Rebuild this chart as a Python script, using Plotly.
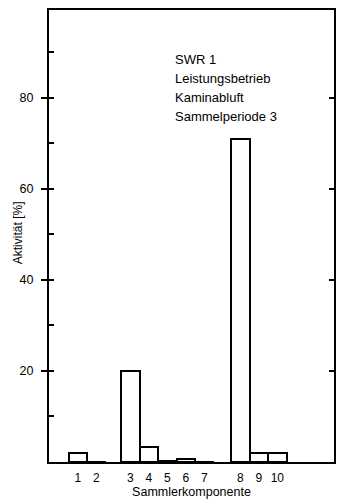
import plotly.graph_objects as go

# Data
components = ["1", "2", "3", "4", "5", "6", "7", "8", "9", "10"]
slot_positions = [1, 2, 3.85, 4.85, 5.85, 6.85, 7.85, 9.8, 10.8, 11.8]
activity = [2.0, 0.0, 20.0, 3.3, 0.3, 0.6, 0.0, 71.0, 1.9, 1.9]
y_major = [20, 40, 60, 80]
y_labels = ["20", "40", "60", "80"]
info_lines = ["SWR 1", "Leistungsbetrieb", "Kaminabluft", "Sammelperiode 3"]

FONT = "Liberation Sans"
YMAX = 99.3
XR = [-0.56, 14.87]

fig = go.Figure()
fig.add_trace(go.Bar(
    x=slot_positions, y=activity, width=1.0,
    marker=dict(color="white", line=dict(color="black", width=2)),
    showlegend=False, hoverinfo="skip",
))
fig.add_trace(go.Scatter(x=[None], y=[None], yaxis="y2", showlegend=False))
fig.add_trace(go.Scatter(x=[None], y=[None], yaxis="y3", showlegend=False))

fig.update_layout(
    width=338, height=504,
    margin=dict(l=49, r=2, t=10, b=42),
    paper_bgcolor="white", plot_bgcolor="white",
    font=dict(family=FONT, size=12, color="black"),
    bargap=0,
    xaxis=dict(
        range=XR, tickmode="array", tickvals=slot_positions, ticktext=components,
        ticks="", showgrid=False, zeroline=False,
        showline=True, linecolor="black", linewidth=2, mirror=True,
        tickfont=dict(size=12), ticklabelstandoff=4,
        title=dict(text="Sammlerkomponente", font=dict(size=12.5), standoff=2),
    ),
    yaxis=dict(
        range=[0, YMAX], tickmode="array", tickvals=y_major, ticktext=y_labels,
        ticks="outside", ticklen=6, tickwidth=2, tickcolor="black",
        minor=dict(tickmode="array", tickvals=[10, 30, 50, 70, 90],
                   ticks="inside", ticklen=5, tickwidth=2, tickcolor="black"),
        showgrid=False, zeroline=False,
        showline=True, linecolor="black", linewidth=2, mirror=True,
        tickfont=dict(size=12.5), ticklabelstandoff=5,
    ),
    yaxis2=dict(
        range=[0, YMAX], overlaying="y", side="left", tickmode="array",
        tickvals=y_major, showticklabels=False, ticks="inside", ticklen=5,
        tickwidth=2, tickcolor="black", showgrid=False, zeroline=False,
        showline=False,
    ),
    yaxis3=dict(
        range=[0, YMAX], overlaying="y", side="right", tickmode="array",
        tickvals=y_major, showticklabels=False, ticks="inside", ticklen=5,
        tickwidth=2, tickcolor="black", showgrid=False, zeroline=False,
        showline=False,
    ),
)

# y-axis title placed as rotated annotation
fig.add_annotation(
    xref="paper", yref="paper", x=(18 - 49) / 287, y=(462 - 233) / 452,
    xanchor="center", yanchor="middle", showarrow=False, textangle=-90,
    text="Aktivität [%]", font=dict(family=FONT, size=12, color="black"),
)

# info block, one annotation per line (line spacing ~19 px)
top_px = 60
for i, line in enumerate(info_lines):
    ypx = top_px + 19 * i
    fig.add_annotation(
        xref="paper", yref="paper", x=0.436, y=(462 - ypx) / 452,
        xanchor="left", yanchor="middle", align="left", showarrow=False,
        text=line, font=dict(family=FONT, size=13, color="black"),
    )

fig.write_html("out.html")
